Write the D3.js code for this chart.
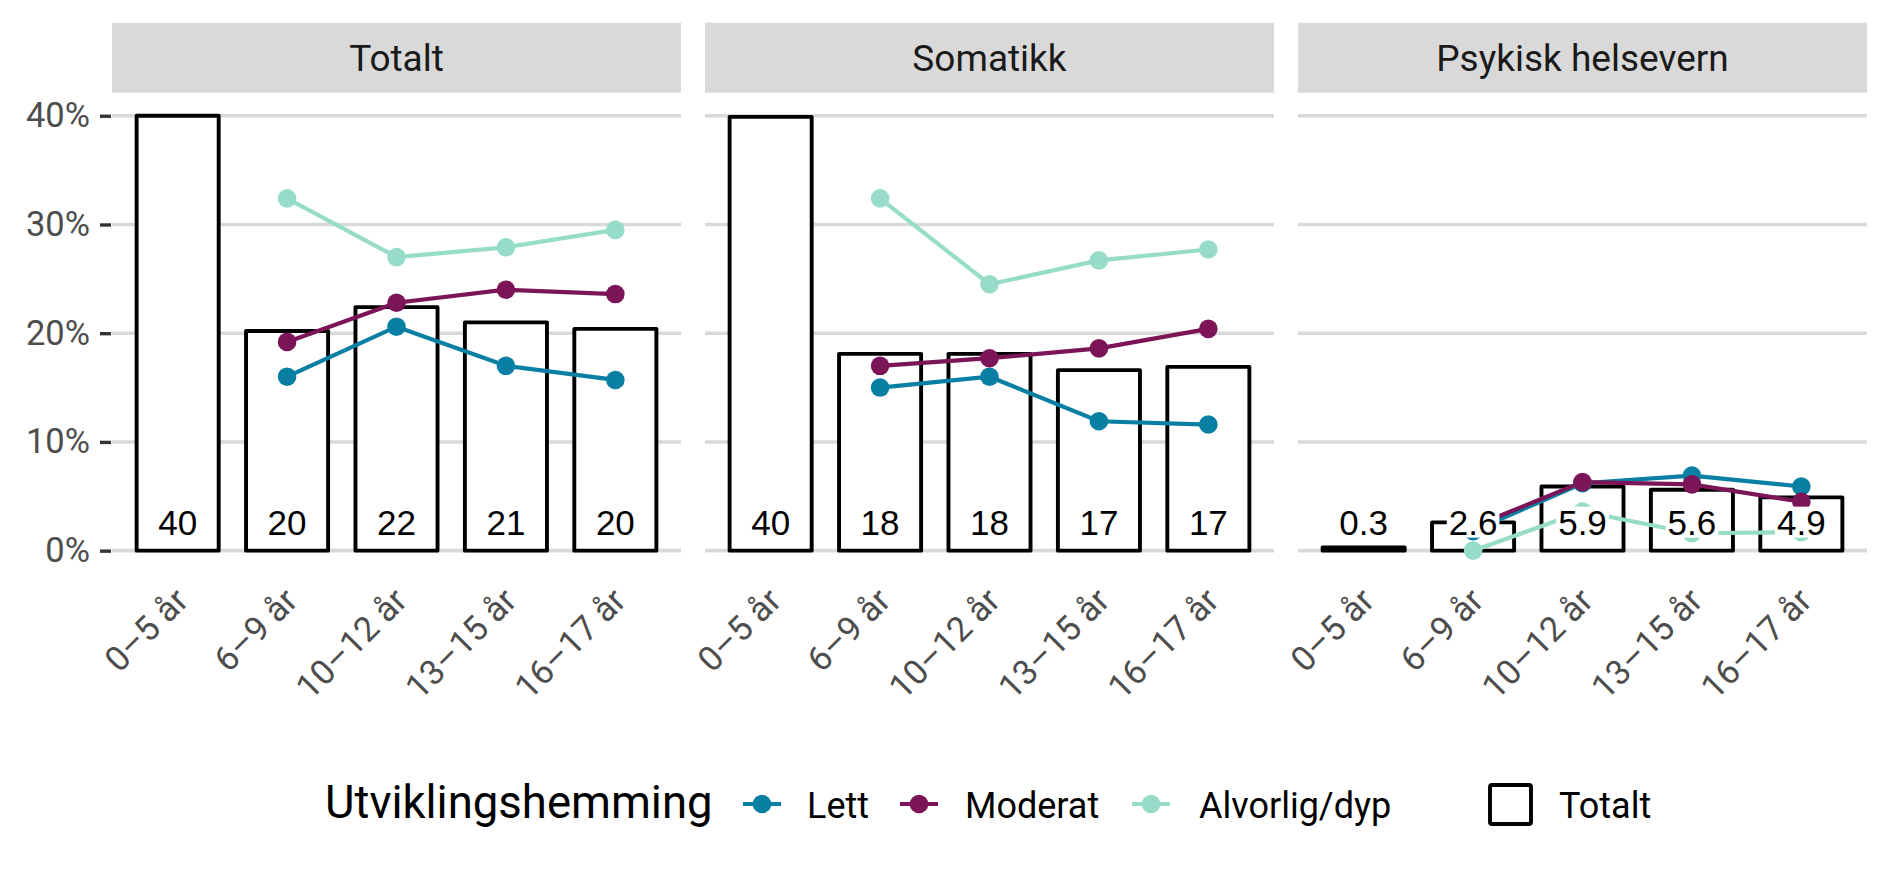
<!DOCTYPE html>
<html>
<head>
<meta charset="utf-8">
<script src="https://cdn.jsdelivr.net/npm/d3@7/dist/d3.min.js"></script>
<style>
  html, body { margin: 0; padding: 0; background: #fff; }
  svg { display: block; }
</style>
</head>
<body>
<svg id="chart" width="1889" height="874"></svg>
<script>
// ---------- DATA ----------
const panels = ["Totalt", "Somatikk", "Psykisk helsevern"];
const ageGroups = ["0–5 år", "6–9 år", "10–12 år", "13–15 år", "16–17 år"];
const seriesNames = ["Lett", "Moderat", "Alvorlig/dyp"];
const totalLabel = "Totalt";
const legendTitle = "Utviklingshemming";
const yTicks = [0, 10, 20, 30, 40];

// Totalt (bars) per panel, in %
const totalTotalt   = [40.0, 20.2, 22.4, 21.0, 20.4];
const totalSomatikk = [39.9, 18.1, 18.1, 16.6, 16.9];
const totalPsykisk  = [0.3, 2.6, 5.9, 5.6, 4.9];

// Lines per panel (null = no value)
const lettTotalt       = [null, 16.0, 20.6, 17.0, 15.7];
const moderatTotalt    = [null, 19.2, 22.8, 24.0, 23.6];
const alvorligTotalt   = [null, 32.4, 27.0, 27.9, 29.5];

const lettSomatikk     = [null, 15.0, 16.0, 11.9, 11.6];
const moderatSomatikk  = [null, 17.0, 17.7, 18.6, 20.4];
const alvorligSomatikk = [null, 32.4, 24.5, 26.7, 27.7];

const lettPsykisk      = [null, 1.8, 6.2, 6.9, 5.9];
const moderatPsykisk   = [null, 2.2, 6.3, 6.1, 4.5];
const alvorligPsykisk  = [null, 0.0, 3.6, 1.6, 1.7];

const labelDecimals = [0, 0, 1];

// ---------- BUILD ----------
const panelData = [
  { name: panels[0], total: totalTotalt,   series: [lettTotalt, moderatTotalt, alvorligTotalt] },
  { name: panels[1], total: totalSomatikk, series: [lettSomatikk, moderatSomatikk, alvorligSomatikk] },
  { name: panels[2], total: totalPsykisk,  series: [lettPsykisk, moderatPsykisk, alvorligPsykisk] }
];
const colors = ["#0a7fa4", "#7b1558", "#97dcc9"];

const svg = d3.select("#chart");

const panelLeft = 112, panelWidth = 569, panelGap = 24;
const stripTop = 22.7, stripBottom = 92.7;
const y = d3.scaleLinear().domain([-2, 42]).range([572.4, 94]);

const FONT = "Roboto, 'Noto Sans', sans-serif";
const LABEL_FONT = "'Liberation Sans', Arial, sans-serif";

// y axis (left panel only)
const yAxis = d3.axisLeft(y).tickValues(yTicks).tickFormat(d => d + "%").tickSize(11).tickPadding(10);
const yg = svg.append("g").attr("transform", `translate(${panelLeft - 1},0)`).call(yAxis);
yg.select(".domain").remove();
yg.selectAll(".tick line").attr("stroke", "#333333").attr("stroke-width", 3.4);
yg.selectAll(".tick text").attr("fill", "#4d4d4d").style("font-family", FONT).style("font-size", "34.5px");

panelData.forEach((p, i) => {
  const x0 = panelLeft + i * (panelWidth + panelGap);
  const x1 = x0 + panelWidth;
  const x = d3.scalePoint().domain(ageGroups).range([x0, x1]).padding(0.6);
  const bw = x.step() * 0.75;
  const g = svg.append("g");

  // strip
  g.append("rect").attr("x", x0).attr("y", stripTop).attr("width", panelWidth)
    .attr("height", stripBottom - stripTop).attr("fill", "#d9d9d9");
  g.append("text").attr("x", (x0 + x1) / 2).attr("y", 71).attr("text-anchor", "middle")
    .attr("fill", "#1a1a1a").style("font-family", FONT).style("font-size", "37px").text(p.name);

  // grid
  g.selectAll("line.grid").data(yTicks).enter().append("line")
    .attr("x1", x0).attr("x2", x1).attr("y1", d => y(d)).attr("y2", d => y(d))
    .attr("stroke", "#d9d9d9").attr("stroke-width", 3.6);

  // bars
  g.selectAll("rect.bar").data(p.total).enter().append("rect")
    .attr("x", (d, j) => x(ageGroups[j]) - bw / 2)
    .attr("width", bw)
    .attr("y", d => y(d))
    .attr("height", d => y(0) - y(d))
    .attr("fill", "#ffffff").attr("stroke", "#000").attr("stroke-width", 3.9)
    .attr("stroke-linejoin", "round");

  // lines
  p.series.forEach((vals, s) => {
    const pts = vals.map((v, j) => ({ v, k: ageGroups[j] })).filter(d => d.v !== null);
    const line = d3.line().x(d => x(d.k)).y(d => y(d.v));
    g.append("path").datum(pts).attr("d", line).attr("fill", "none")
      .attr("stroke", colors[s]).attr("stroke-width", 4.2);
  });
  p.series.forEach((vals, s) => {
    const pts = vals.map((v, j) => ({ v, k: ageGroups[j] })).filter(d => d.v !== null);
    g.selectAll(null).data(pts).enter().append("circle")
      .attr("cx", d => x(d.k)).attr("cy", d => y(d.v)).attr("r", 9.3).attr("fill", colors[s]);
  });

  // labels with white boxes
  const fmt = d3.format("." + labelDecimals[i] + "f");
  p.total.forEach((v, j) => {
    const cx = x(ageGroups[j]);
    const by = y(0) - 16;
    const lg = g.append("g");
    const bg = lg.append("rect").attr("fill", "#ffffff");
    const t = lg.append("text").attr("x", cx).attr("y", by).attr("text-anchor", "middle")
      .attr("fill", "#000").style("font-family", LABEL_FONT).style("font-size", "35px").text(fmt(v));
    const bb = t.node().getBBox();
    bg.attr("x", bb.x - 2).attr("width", bb.width + 4).attr("y", by - 28).attr("height", 31);
  });

  // x axis labels
  const xAxis = d3.axisBottom(x).tickSize(0);
  const xg = svg.append("g").attr("transform", `translate(0,${y(0)})`).call(xAxis);
  xg.select(".domain").remove();
  xg.selectAll(".tick line").remove();
  xg.selectAll(".tick text")
    .attr("x", 0).attr("y", 0).attr("dy", 0)
    .attr("text-anchor", "end")
    .attr("transform", "translate(12,52) rotate(-45)")
    .attr("fill", "#4d4d4d").style("font-family", FONT).style("font-size", "34.5px");
});

// ---------- LEGEND ----------
const lg = svg.append("g");
const legendBase = 818;
const legendMid = 804;
lg.append("text").attr("x", 325).attr("y", legendBase).attr("fill", "#000")
  .style("font-family", FONT).style("font-size", "45.5px").text(legendTitle);

const keyCenters = [762, 919, 1151];
const keyLabelX = [807, 965, 1199];
seriesNames.forEach((n, s) => {
  lg.append("line").attr("x1", keyCenters[s] - 19).attr("x2", keyCenters[s] + 19)
    .attr("y1", legendMid).attr("y2", legendMid).attr("stroke", colors[s]).attr("stroke-width", 4.2);
  lg.append("circle").attr("cx", keyCenters[s]).attr("cy", legendMid).attr("r", 9.3).attr("fill", colors[s]);
  lg.append("text").attr("x", keyLabelX[s]).attr("y", legendBase).attr("fill", "#000")
    .style("font-family", FONT).style("font-size", "36px").text(n);
});
lg.append("rect").attr("x", 1490).attr("y", 785).attr("width", 41).attr("height", 39)
  .attr("rx", 2).attr("fill", "#fff").attr("stroke", "#000").attr("stroke-width", 3.9);
lg.append("text").attr("x", 1559).attr("y", legendBase).attr("fill", "#000")
  .style("font-family", FONT).style("font-size", "36px").text(totalLabel);
</script>
</body>
</html>
